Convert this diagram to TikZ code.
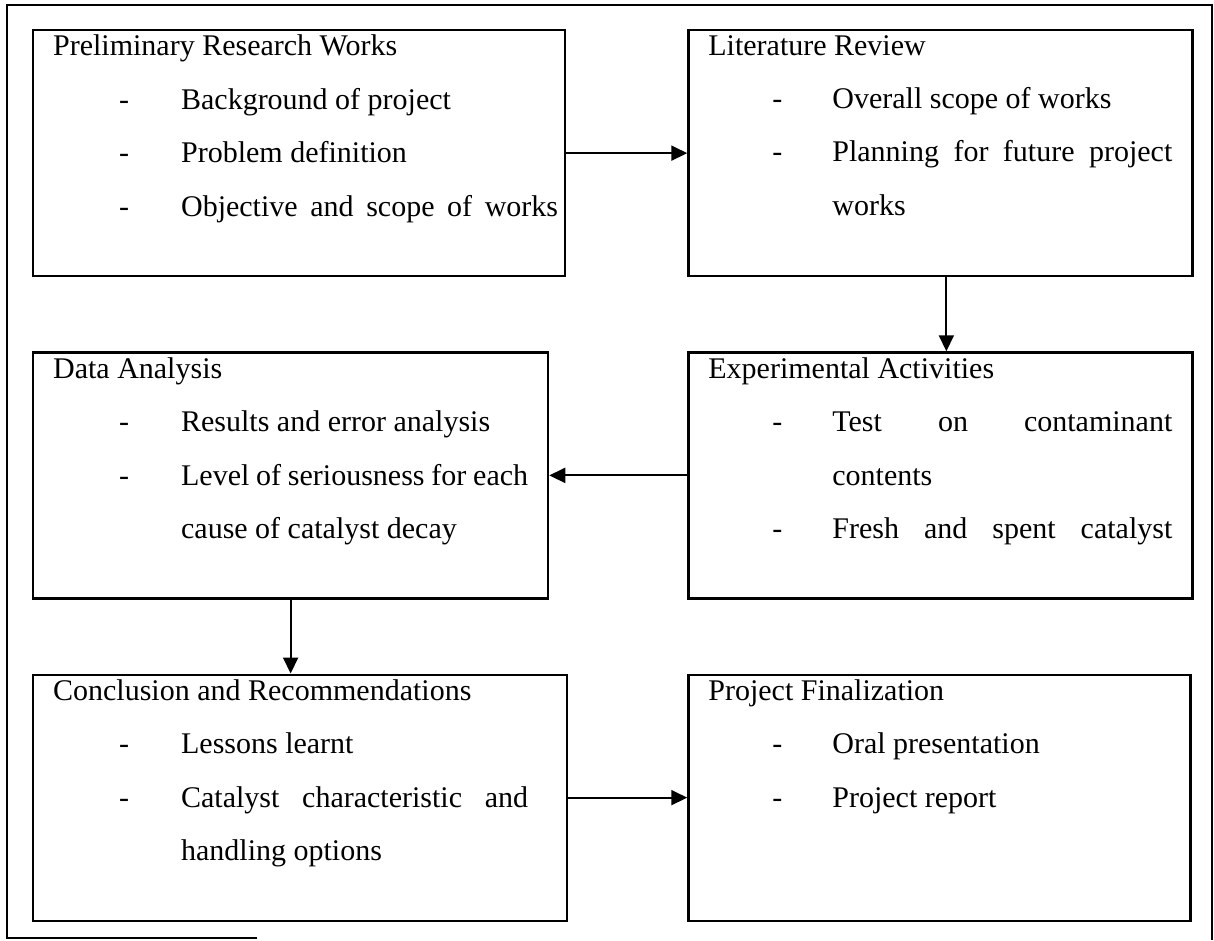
\documentclass[tikz,border=0pt]{standalone}
\usepackage{fontspec}
\setmainfont{Liberation Serif}
\usetikzlibrary{calc, arrows.meta, positioning}
\tikzset{
    stepbox/.style = {draw, rectangle, line width=0.9pt, anchor=north west, inner xsep=8pt, 
      inner ysep=2pt, font=\fontsize{12pt}{21.4pt}\selectfont},
    connect/.style = {black, line width=0.8pt, -{Triangle[length=6.4pt, width=6pt]}},
    pageframe/.style = {black, line width=0.6pt}
}
\newlength{\dashskip}\setlength{\dashskip}{26.4pt}
\newlength{\textskip}\setlength{\textskip}{51.2pt}
\newcommand{\stepline}[1]{\par\hangindent=\textskip\hangafter=1\noindent
  \hspace*{\dashskip}\makebox[\dimexpr\textskip-\dashskip\relax][l]{-}#1}
\newcommand{\steptext}[2]{\begin{minipage}[t][94.4pt][t]{#1}#2\end{minipage}}
\newcommand{\rightcol}{\setlength{\dashskip}{25.6pt}\setlength{\textskip}{49.6pt}}

\begin{document}
\begin{tikzpicture}
\useasboundingbox (0,0) rectangle (485.6pt,-376pt);

\draw [pageframe] (102.8pt,-375.2pt) -- (2.8pt,-375.2pt) -- (2.8pt,-2pt) -- (484.8pt,-2pt) -- (484.8pt,-376pt);

\node [stepbox, name = prelim] at (12.8pt,-11.6pt) 
{\steptext{202pt}{Preliminary Research Works
  \stepline{Background of project}
  \stepline{Problem definition}
  \stepline{\parfillskip=0pt Objective and scope of works}}\hspace*{-5.2pt}};

\node [stepbox, name = litrev, right = 48.4pt of prelim.north east, anchor = north west] 
{\rightcol\steptext{185.6pt}{Literature Review
  \stepline{Overall scope of works}
  \stepline{Planning for future project\linebreak works}}};

\node [stepbox, name = data, below = 29.6pt of prelim.south west, anchor = north west] 
{\steptext{190pt}{Data Analysis
  \stepline{Results and error analysis}
  \stepline{Level of seriousness for each\linebreak cause of catalyst decay}}};

\node [stepbox, name = exper, below = 29.6pt of litrev.south west, anchor = north west] 
{\rightcol\steptext{185.6pt}{Experimental Activities
  \stepline{Test on contaminant\linebreak contents}
  \stepline{\parfillskip=0pt Fresh and spent catalyst}}};

\node [stepbox, name = concl, below = 29.6pt of data.south west, anchor = north west] 
{\steptext{190pt}{Conclusion and Recommendations
  \stepline{Lessons learnt}
  \stepline{Catalyst characteristic and\linebreak handling options}}\hspace*{7.6pt}};

\node [stepbox, name = final, below = 29.6pt of exper.south west, anchor = north west] 
{\rightcol\steptext{184.8pt}{Project Finalization
  \stepline{Oral presentation}
  \stepline{Project report}}};

% arrows between the stages
\draw [connect] (prelim.east) -- (prelim.east -| litrev.west);
\draw [connect] ([xshift=2.4pt]litrev.south) -- ([xshift=2.4pt]litrev.south |- exper.north);
\draw [connect] (exper.west) -- (exper.west -| data.east);
\draw [connect] (data.south) -- (data.south |- concl.north);
\draw [connect] (concl.east) -- (concl.east -| final.west);

\end{tikzpicture}
\end{document}
